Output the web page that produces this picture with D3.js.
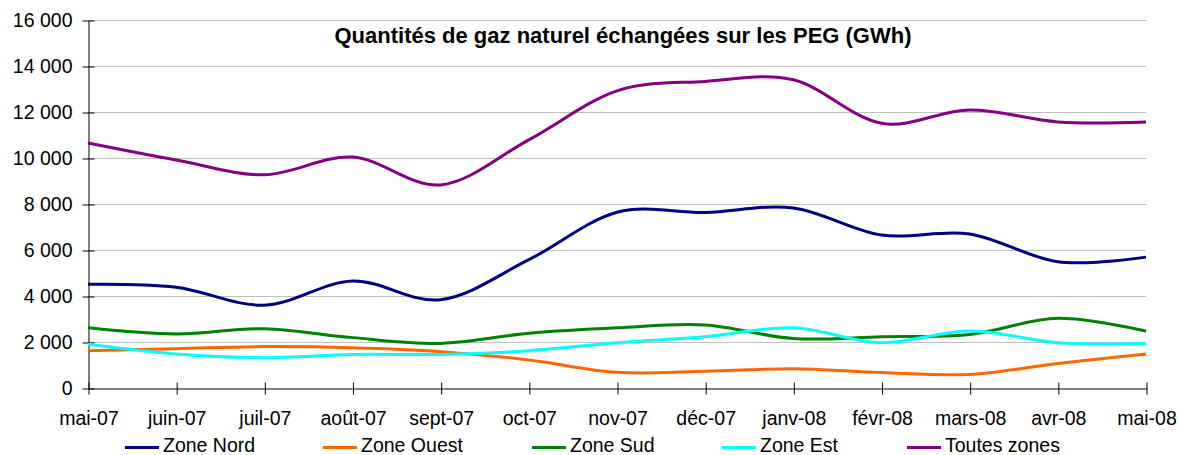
<!DOCTYPE html>
<html>
<head>
<meta charset="utf-8">
<script src="https://cdn.jsdelivr.net/npm/d3@7"></script>
<style>
  html, body { margin: 0; padding: 0; background: #fff; }
  svg { display: block; font-family: "Liberation Sans", Arial, sans-serif; }
</style>
</head>
<body>
<svg id="chart" width="1178" height="455"></svg>
<script>
const months = ["mai-07","juin-07","juil-07","août-07","sept-07","oct-07","nov-07","déc-07","janv-08","févr-08","mars-08","avr-08","mai-08"];
const zoneNord   = [4510, 4380, 3600, 4650, 3840, 5580, 7640, 7630, 7830, 6650, 6700, 5490, 5690];
const zoneOuest  = [1620, 1710, 1800, 1750, 1580, 1220, 680, 730, 840, 670, 590, 1070, 1480];
const zoneSud    = [2620, 2350, 2580, 2190, 1940, 2380, 2620, 2740, 2150, 2230, 2330, 3030, 2480];
const zoneEst    = [1900, 1480, 1320, 1460, 1460, 1620, 1970, 2230, 2620, 1970, 2480, 1970, 1940];
const toutes     = [10650, 9910, 9270, 10040, 8830, 10790, 12920, 13330, 13400, 11510, 12090, 11570, 11570];
const yTicks = [0, 2000, 4000, 6000, 8000, 10000, 12000, 14000, 16000];
const seriesNames = ["Zone Nord", "Zone Ouest", "Zone Sud", "Zone Est", "Toutes zones"];
const chartTitle = "Quantités de gaz naturel échangées sur les PEG (GWh)";

(function () {
const series = [
  {name: seriesNames[0], values: zoneNord,  color: "#000080"},
  {name: seriesNames[1], values: zoneOuest, color: "#ff6600"},
  {name: seriesNames[2], values: zoneSud,   color: "#008000"},
  {name: seriesNames[3], values: zoneEst,   color: "#00ffff"},
  {name: seriesNames[4], values: toutes,    color: "#800080"}
];
const legendX = [125, 323, 532, 722, 907];
const fontSize = 19.5;

const svg = d3.select("#chart");
const pLeft = 88, pRight = 1146, pTop = 20, pBottom = 388;

const x = d3.scalePoint().domain(months).range([pLeft, pRight]);
const y = d3.scaleLinear().domain([0, 16000]).range([pBottom, pTop]);

const locale = d3.formatLocale({decimal: ",", thousands: "\u00a0", grouping: [3], currency: ["", "€"]});
const fmt = locale.format(",d");

// gridlines
svg.append("g")
  .selectAll("line")
  .data(yTicks.filter(d => d > 0))
  .join("line")
  .attr("x1", pLeft).attr("x2", pRight)
  .attr("y1", d => Math.round(y(d)) + 0.5).attr("y2", d => Math.round(y(d)) + 0.5)
  .attr("stroke", "#c0c0c0").attr("stroke-width", 1);

// Y axis
const yAxis = svg.append("g")
  .attr("transform", `translate(${pLeft + 0.5},0.5)`)
  .call(d3.axisLeft(y).tickValues(yTicks).tickFormat(fmt).tickSizeInner(6).tickSizeOuter(0).tickPadding(10));
yAxis.select(".domain").attr("stroke", "#000");
yAxis.selectAll(".tick line").attr("x1", 6).attr("x2", -6).attr("stroke", "#000");
yAxis.selectAll(".tick text").attr("font-size", fontSize).attr("fill", "#000")
  .attr("font-family", "'Liberation Sans', Arial, sans-serif").attr("x", -16);

// X axis
const xAxis = svg.append("g")
  .attr("transform", `translate(0.5,${pBottom + 0.5})`)
  .call(d3.axisBottom(x).tickSizeInner(6).tickSizeOuter(0).tickPadding(20));
xAxis.select(".domain").attr("stroke", "#000");
xAxis.selectAll(".tick line").attr("y1", -6).attr("y2", 6).attr("stroke", "#000");
xAxis.selectAll(".tick text").attr("font-size", fontSize).attr("fill", "#000")
  .attr("font-family", "'Liberation Sans', Arial, sans-serif")
  .attr("dy", null).attr("y", 36);

// lines
const line = d3.line()
  .x((d, i) => x(months[i]))
  .y(d => y(d))
  .curve(d3.curveCardinal.tension(0));

svg.append("g")
  .selectAll("path")
  .data(series)
  .join("path")
  .attr("d", d => line(d.values))
  .attr("fill", "none")
  .attr("stroke", d => d.color)
  .attr("stroke-width", 3)
  .attr("stroke-linejoin", "round");

// title
svg.append("text")
  .attr("x", 623).attr("y", 43)
  .attr("text-anchor", "middle")
  .attr("font-size", 22).attr("font-weight", "bold")
  .attr("fill", "#000")
  .text(chartTitle);

// legend
const legend = svg.append("g");
series.forEach((s, i) => {
  const lx = legendX[i];
  const g = legend.append("g");
  g.append("line")
    .attr("x1", lx).attr("x2", lx + 34)
    .attr("y1", 447.5).attr("y2", 447.5)
    .attr("stroke", s.color).attr("stroke-width", 3);
  g.append("text")
    .attr("x", lx + 38).attr("y", 452)
    .attr("font-size", fontSize).attr("fill", "#000")
    .text(s.name);
});
})();
</script>
</body>
</html>
